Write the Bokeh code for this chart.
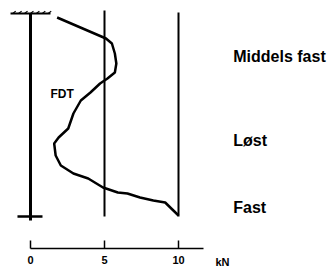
from bokeh.plotting import figure
from bokeh.models import Range1d, FixedTicker
from bokeh.core.properties import value
from bokeh.embed import file_html
from bokeh.resources import INLINE

# Sounding resistance curve F_DT (kN) against depth (relative units, downward)
force_kn = [1.8, 5.1, 5.5, 5.7, 5.8, 5.7, 5.2, 4.7, 4.05, 3.4, 2.9, 2.55, 1.9, 1.6,
            1.7, 2.05, 2.9, 3.9, 4.9, 5.9, 6.55, 7.4, 8.3, 9.1, 10.0]
depth = [0.1, 1.15, 1.4, 1.9, 2.4, 2.85, 3.15, 3.4, 3.85, 4.25, 4.9, 5.65, 6.1, 6.4,
         7.0, 7.5, 7.9, 8.15, 8.6, 8.85, 8.9, 9.1, 9.25, 9.35, 10.0]

ref_lines = [5, 10]
zone_labels = ["Middels fast", "Løst", "Fast"]
zone_depths = [2.05, 6.25, 9.6]
tick_values = [0, 5, 10]
unit_label = "kN"
hatch_x = [-1.2, -0.8, -0.4, 0.0, 0.4, 0.8, 1.2]

FONT = "Liberation Sans"
AXIS_DEPTH = 11.65

p = figure(width=334, height=270, output_backend="svg", toolbar_location=None,
           x_range=Range1d(-2.027, 20.54), y_range=Range1d(12.75, -0.75),
           min_border=0)
p.outline_line_color = None
p.grid.visible = False
p.yaxis.visible = False
p.background_fill_color = "white"

ax = p.xaxis[0]
ax.fixed_location = AXIS_DEPTH
ax.ticker = FixedTicker(ticks=tick_values)
ax.bounds = (0, 11.7)
ax.axis_line_width = 1.5
ax.axis_line_color = "black"
ax.major_tick_in = 8
ax.major_tick_out = 0
ax.major_tick_line_width = 1.5
ax.minor_tick_line_color = None
ax.major_label_standoff = 7
ax.major_label_text_font = FONT
ax.major_label_text_font_style = "bold"
ax.major_label_text_font_size = "11px"
ax.major_label_text_color = "black"

# zero line (rod) with ground hatch and foot bar
p.segment(x0=[0], y0=[-0.1], x1=[0], y1=[10.25], line_width=3, line_color="black")
p.segment(x0=[-1.35], y0=[-0.1], x1=[1.35], y1=[-0.1], line_width=2, line_color="black")
p.segment(x0=hatch_x, y0=[-0.1] * len(hatch_x), x1=[h + 0.2 for h in hatch_x],
          y1=[-0.22] * len(hatch_x), line_width=1.2, line_color="black")
p.segment(x0=[-0.88], y0=[10.05], x1=[0.81], y1=[10.05], line_width=2.5, line_color="black")

# reference lines
p.segment(x0=ref_lines, y0=[-0.25, -0.15], x1=ref_lines, y1=[10.05, 10.05],
          line_width=2, line_color="black")

# curve
p.line(force_kn, depth, line_width=2.5, line_color="black")

# labels
p.text(x=[13.7] * 3, y=zone_depths, text=zone_labels, text_font=value(FONT),
       text_font_style="bold", text_font_size="16px", text_baseline="middle",
       text_color="black")
p.text(x=[1.35], y=[3.9], text=["FDT"], text_font=value(FONT), text_font_style="bold",
       text_font_size="12px", text_baseline="middle", text_color="black")
p.text(x=[12.5], y=[12.3], text=[unit_label], text_font=value(FONT), text_font_style="bold",
       text_font_size="11px", text_baseline="middle", text_color="black")

open("out.html", "w").write(file_html(p, INLINE))
